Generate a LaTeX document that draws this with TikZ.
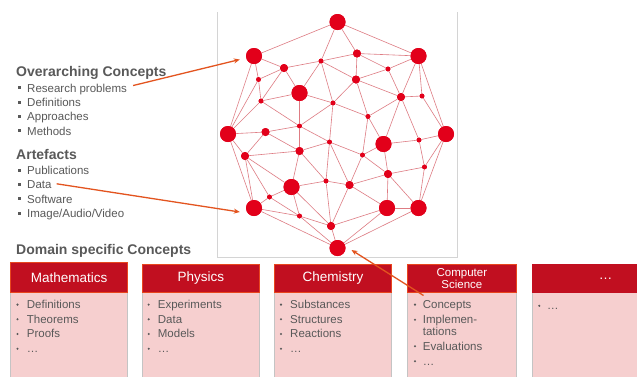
\documentclass[tikz,border=0pt]{standalone}
\usepackage{fontspec}
\setmainfont{Liberation Sans}
\usetikzlibrary{arrows.meta}
\definecolor{txt}{HTML}{595959}
\definecolor{netred}{HTML}{E2001A}
\definecolor{edgecol}{HTML}{DE7C83}
\definecolor{arrcol}{HTML}{E3541F}
\definecolor{hdrfill}{HTML}{C10F20}
\definecolor{hdrline}{HTML}{E8461E}
\definecolor{bodyfill}{HTML}{F6CFCF}
\definecolor{bodyline}{HTML}{C4C4C4}
\definecolor{framecol}{HTML}{D4D4D4}
\tikzset{
  big/.style={circle,fill=netred,inner sep=0,minimum size=16pt},
  med/.style={circle,fill=netred,inner sep=0,minimum size=8pt},
  sml/.style={circle,fill=netred,inner sep=0,minimum size=4.8pt},
  edge/.style={draw=edgecol,line width=0.6pt},
  arr/.style={draw=arrcol,line width=1.3pt,-{Stealth[length=6pt,width=5pt]}},
  head/.style={font=\fontsize{14}{16}\selectfont\bfseries,text=txt,inner sep=0,anchor=base west},
  item/.style={font=\fontsize{11.5}{13}\selectfont,text=txt,inner sep=0,anchor=base west},
  btxt/.style={font=\fontsize{11.5}{13}\selectfont,text=txt,inner sep=0,anchor=base west},
  hdr/.style={draw=hdrline,line width=0.8pt,fill=hdrfill,anchor=north west,inner sep=0,minimum height=28pt},
  body/.style={draw=bodyline,line width=0.6pt,fill=bodyfill,anchor=north west,inner sep=0,minimum height=90pt},
  htxt/.style={font=\fontsize{13.5}{15}\selectfont,text=white,inner sep=0},
  htxts/.style={font=\fontsize{11.5}{12.3}\selectfont,text=white,inner sep=0,align=center},
}
\begin{document}
\begin{tikzpicture}[x=1pt,y=-1pt]
\useasboundingbox (0,0) rectangle (637,376);
\clip (0,0) rectangle (637,376);
\fill[white] (0,0) rectangle (637,376);

% frame of network picture
\draw[framecol,line width=0.7pt] (217,12) -- (217,257) -- (457,257) -- (457,12);

% network nodes
\node[big] (T)  at (337.5,22) {};
\node[big] (L1) at (254,56) {};
\node[big] (R1) at (418.5,56) {};
\node[big] (C1) at (299.5,93) {};
\node[big] (L2) at (228,134) {};
\node[big] (R2) at (446,134) {};
\node[big] (C2) at (383.5,144) {};
\node[big] (C3) at (291.5,187) {};
\node[big] (L3) at (254,208) {};
\node[big] (R4) at (387,208) {};
\node[big] (R3) at (418.5,208) {};
\node[big] (B)  at (337.5,248) {};
\node[med] (a) at (284,68) {};
\node[med] (b) at (357,53.5) {};
\node[med] (c) at (356,79.5) {};
\node[med] (d) at (401,97) {};
\node[med] (e) at (265.5,132) {};
\node[med] (f) at (299.5,151) {};
\node[med] (g) at (245,156) {};
\node[med] (h) at (388,174) {};
\node[med] (i) at (349.5,185) {};
\node[med] (j) at (331,226) {};
\node[sml] (s1) at (321,61) {};
\node[sml] (s2) at (388,69) {};
\node[sml] (s3) at (258.5,79.5) {};
\node[sml] (s4) at (261,101) {};
\node[sml] (s5) at (333,103) {};
\node[sml] (s6) at (422,96) {};
\node[sml] (s7) at (368,116.5) {};
\node[sml] (s8) at (299.5,126) {};
\node[sml] (s9) at (329.5,142) {};
\node[sml] (s10) at (362.5,155) {};
\node[sml] (s11) at (419,140) {};
\node[sml] (s12) at (424.5,167) {};
\node[sml] (s13) at (326,181) {};
\node[sml] (s14) at (269.5,197) {};
\node[sml] (s15) at (299.5,216) {};

\foreach \u/\v in {T/L1,T/R1,T/s1,T/b,
  L1/a,L1/s3,L1/L2,
  a/s1,a/s3,a/C1,a/s4,
  s1/b,s1/C1,s1/s5,s1/c,
  b/R1,b/s2,b/c,
  s2/R1,s2/c,s2/d,
  R1/d,R1/s6,R1/R2,
  c/d,c/s5,c/s7,
  d/s6,d/s7,d/s11,d/C2,
  s6/R2,
  s3/s4,s3/L2,
  s4/C1,s4/s8,s4/L2,
  C1/s5,C1/s8,
  s5/s8,s5/s7,s5/s9,
  s7/C2,s7/s10,
  L2/e,L2/g,L2/L3,
  e/s8,e/g,e/f,
  s8/s9,s8/f,
  g/f,g/C3,g/L3,g/s14,
  f/s9,f/C3,f/s13,
  s9/s13,s9/s10,s9/i,
  C2/s11,C2/s10,C2/h,
  s11/R2,s11/s12,
  R2/s12,R2/R3,
  s10/h,s10/i,
  s12/h,s12/R3,
  h/i,h/R4,h/R3,
  i/s13,i/R4,i/j,
  s13/C3,s13/j,
  C3/s14,C3/s15,C3/j,
  s14/L3,s14/s15,
  L3/B,L3/s15,
  s15/j,s15/B,
  j/B,R4/R3,R4/j,R4/B,R3/B}
  \draw[edge] (\u) -- (\v);

% redraw nodes on top of edges
\foreach \n in {T,L1,R1,C1,L2,R2,C2,C3,L3,R4,R3,B}
  \fill[netred] (\n) circle (8pt);
\foreach \n in {a,b,c,d,e,f,g,h,i,j}
  \fill[netred] (\n) circle (4pt);
\foreach \n in {s1,s2,s3,s4,s5,s6,s7,s8,s9,s10,s11,s12,s13,s14,s15}
  \fill[netred] (\n) circle (2.4pt);

% left texts
\node[head] (oc) at (16,76.7) {Overarching Concepts};
\node[item] (rp) at (27,92) {Research problems};
\node[item] (df) at (27,106.3) {Definitions};
\node[item] (ap) at (27,120.6) {Approaches};
\node[item] (me) at (27,135) {Methods};
\node[head] (af) at (16,159.3) {Artefacts};
\node[item] (pu) at (27,174.3) {Publications};
\node[item] (da) at (27,188.7) {Data};
\node[item] (sw) at (27,203) {Software};
\node[item] (iav) at (27,217.3) {Image/Audio/Video};
\node[head] (dsc) at (16,254.3) {Domain specific Concepts};
\foreach \yy in {92,106.3,120.6,135,174.3,188.7,203,217.3}
  \fill[txt] (17.9,\yy-5.6) rectangle (20.9,\yy-2.6);

% boxes
\node[body,minimum width=117.3pt] (mB) at (10,292) {};
\node[hdr,minimum width=117.3pt,minimum height=30pt] (mH) at (10,262.3) {};
\node[htxt] at (mH.center) {Mathematics};
\node[body,minimum width=117pt] (pB) at (142,292) {};
\node[hdr,minimum width=117pt] (pH) at (142,264) {};
\node[htxt] at (pH.center) {Physics};
\node[body,minimum width=116.7pt] (chB) at (274.3,292) {};
\node[hdr,minimum width=116.7pt] (chH) at (274.3,264) {};
\node[htxt] at (chH.center) {Chemistry};
\node[body,minimum width=108.4pt] (csB) at (407.3,292) {};
\node[hdr,minimum width=108.4pt] (csH) at (407.3,264) {};
\node[htxts] at (csH.center) {Computer\\Science};
\node[body,minimum width=120pt] (xB) at (531.7,292) {};
\node[hdr,draw=hdrfill,minimum width=120pt] (xH) at (531.7,264) {};
\node[htxt] at ([xshift=-47pt]xH.east) {…};

% body items
\node[btxt] (m1) at (26.7,308.3) {Definitions};
\node[btxt] (m2) at (26.7,323) {Theorems};
\node[btxt] (m3) at (26.7,337.7) {Proofs};
\node[btxt] (m4) at (26.7,352.4) {…};
\node[btxt] (p1) at (157.7,308.3) {Experiments};
\node[btxt] (p2) at (157.7,323) {Data};
\node[btxt] (p3) at (157.7,337.7) {Models};
\node[btxt] (p4) at (157.7,352.4) {…};
\node[btxt] (c1) at (290,308.3) {Substances};
\node[btxt] (c2) at (290,323) {Structures};
\node[btxt] (c3) at (290,337.7) {Reactions};
\node[btxt] (c4) at (290,352.4) {…};
\node[btxt] (k1) at (422.7,308.3) {Concepts};
\node[btxt] (k2) at (422.7,323.5) {Implemen-};
\node[btxt] (k2b) at (422.7,335) {tations};
\node[btxt] (k3) at (422.7,350) {Evaluations};
\node[btxt] (k4) at (422.7,365) {…};
\node[btxt] (x1) at (547,309.5) {…};
\foreach \xx/\yy in {17.5/308.3,17.5/323,17.5/337.7,17.5/352.4,
  148.7/308.3,148.7/323,148.7/337.7,148.7/352.4,
  281/308.3,281/323,281/337.7,281/352.4,
  415/308.3,415/323.5,415/350,415/365,
  539.3/309.5}
  \fill[txt] (\xx,\yy-3.7) circle (1.15pt);

% arrows
\coordinate (csA) at (423.5,295.5);
\draw[arr] ([xshift=6pt,yshift=3.5pt]rp.east) -- ([xshift=-6pt,yshift=-3.5pt]L1.west);
\draw[arr] ([xshift=5pt,yshift=1pt]da.east) -- ([xshift=-6pt,yshift=-4pt]L3.west);
\draw[arr] (csA) -- ([xshift=14pt,yshift=-2pt]B.center);
\end{tikzpicture}
\end{document}
